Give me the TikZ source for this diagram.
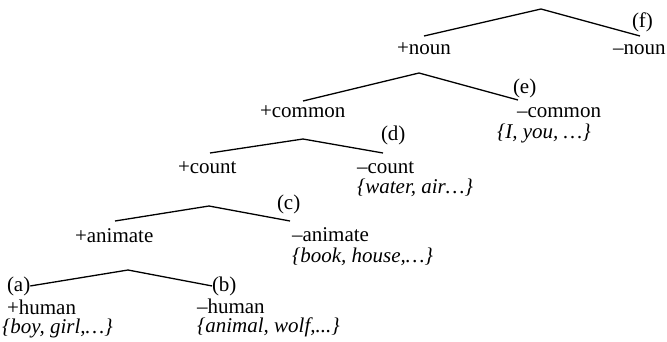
\documentclass[tikz,border=0pt]{standalone}
\usepackage{fontspec}
\setmainfont{Liberation Serif}
\begin{document}
\begin{tikzpicture}[x=1pt,y=-1pt,
  every node/.style={inner sep=0pt, outer sep=0pt, font=\fontsize{21}{24}\selectfont},
  feat/.style={anchor=base west},
  ex/.style={anchor=base west, font=\fontsize{21}{24}\selectfont\itshape},
  tag/.style={anchor=base west},
  branch/.style={line width=1.3pt, line join=miter}]
\useasboundingbox (0,0) rectangle (667,341);

% (f) noun
\coordinate (fTop) at (541,9);
\coordinate (fL) at (424,36);
\coordinate (fR) at (640,36);
\node[tag]  (f)      at (632,27)  {(f)};
\node[feat] (noun)   at (397,54)  {+noun};
\node[feat] (nnoun)  at (613,54)  {–noun};
\draw[branch] (fL) -- (fTop) -- (fR);

% (e) common
\coordinate (eTop) at (419,73);
\coordinate (eL) at (303,101);
\coordinate (eR) at (518,100);
\node[tag]  (e)      at (513,93)  {(e)};
\node[feat] (common) at (260,117) {+common};
\node[feat] (ncommon) at (517,117) {–common};
\node[ex]   (exe)    at (497,138) {\{I, you, …\}};
\draw[branch] (eL) -- (eTop) -- (eR);

% (d) count
\coordinate (dTop) at (303,139);
\coordinate (dL) at (210,153);
\coordinate (dR) at (383,153);
\node[tag]  (d)      at (381,140) {(d)};
\node[feat] (count)  at (178,173) {+count};
\node[feat] (ncount) at (357,173) {–count};
\node[ex]   (exd)    at (357,193) {\{water, air…\}};
\draw[branch] (dL) -- (dTop) -- (dR);

% (c) animate
\coordinate (cTop) at (209,206);
\coordinate (cL) at (115,221);
\coordinate (cR) at (290,221);
\node[tag]  (c)       at (277,209) {(c)};
\node[feat] (animate) at (75,242)  {+animate};
\node[feat] (nanimate) at (292,241) {–animate};
\node[ex]   (exc)     at (292,262) {\{book, house,…\}};
\draw[branch] (cL) -- (cTop) -- (cR);

% (a)/(b) human
\coordinate (hTop) at (128,270);
\node[tag]  (a)      at (7,291)   {(a)};
\node[tag]  (b)      at (212,291) {(b)};
\node[feat] (human)  at (7,314)   {+human};
\node[feat] (nhuman) at (197,313) {–human};
\node[ex]   (exa)    at (2,333)   {\{boy, girl,…\}};
\node[ex]   (exb)    at (197,332) {\{animal, wolf,...\}};
\draw[branch] (a.east) -- (hTop) -- (b.west);
\end{tikzpicture}
\end{document}
